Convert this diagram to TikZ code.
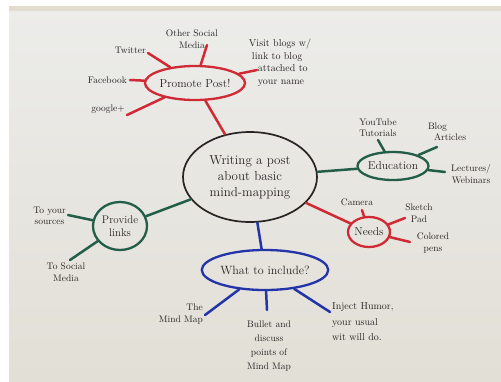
\documentclass[tikz,border=0pt]{standalone}
\usetikzlibrary{shapes.geometric}
\definecolor{mred}{RGB}{208,42,52}
\definecolor{mgreen}{RGB}{35,95,72}
\definecolor{mblue}{RGB}{35,52,168}
\definecolor{mink}{RGB}{40,36,36}
\definecolor{paperT}{RGB}{236,236,234}
\definecolor{paperB}{RGB}{226,223,214}
\definecolor{band}{RGB}{226,220,204}
\tikzset{
  bub/.style={ellipse, draw, line width=2.3pt, inner sep=0pt, text=mink,
    font=\fontsize{11.5}{13}\selectfont, align=center},
  lbl/.style={text=mink, font=\fontsize{9.5}{11.5}\selectfont, align=center, inner sep=0pt},
  br/.style={line width=2.5pt, line cap=round},
}
\begin{document}
\begin{tikzpicture}[x=1pt,y=-1pt]
\useasboundingbox (0,0) rectangle (501,381);
\fill[white] (0,0) rectangle (501,381);
\shade[top color=paperT, bottom color=paperB] (9,6) rectangle (501,381);
\fill[band] (9,6) rectangle (501,11);

% central
\node[bub, draw=mink, line width=1.7pt, minimum width=134pt, minimum height=90pt,
  font=\fontsize{13}{16}\selectfont] (main) at (250,177) {Writing a post\\about basic\\mind-mapping};

% main branches
\node[bub, draw=mred, minimum width=86pt, minimum height=34pt] (pp) at (195,83) {Promote Post!};
\node[bub, draw=mgreen, minimum width=68pt, minimum height=28pt] (edu) at (393,166) {Education};
\node[bub, draw=mred, minimum width=42pt, minimum height=30pt] (needs) at (369,232) {Needs};
\node[bub, draw=mgreen, minimum width=54pt, minimum height=48pt, font=\fontsize{11}{13}\selectfont] (links) at (120,226) {Provide\\links};
\node[bub, draw=mblue, minimum width=114pt, minimum height=40pt, font=\fontsize{12}{14}\selectfont] (incl) at (265,270) {What to include?};

\draw[br, mred] (main) -- (pp);
\draw[br, mgreen] (main) -- (edu);
\draw[br, mred] (main) -- (needs);
\draw[br, mgreen] (main) -- (links);
\draw[br, mblue] (main) -- (incl);

% Promote Post leaves
\coordinate (cTw) at (148,53);
\coordinate (cOt) at (207,45);
\coordinate (cVi) at (257,70);
\coordinate (cFb) at (130,80);
\coordinate (cGo) at (127,115);
\node[lbl, anchor=east] (tw) at (146,50) {Twitter};
\node[lbl] (ot) at (192,39) {Other Social\\Media};
\node[lbl, align=left, font=\fontsize{10}{12.5}\selectfont] (vi) at (280,63) {Visit blogs w/\\\hspace*{3pt}link to blog\\\hspace*{9pt}attached to\\\hspace*{9pt}your name};
\node[lbl, anchor=east] (fb) at (127,80) {Facebook};
\node[lbl, anchor=east] (go) at (125,109) {google+};
\foreach \c in {cTw,cOt,cVi,cFb,cGo} \draw[br, mred] (pp) -- (\c);

% Education leaves
\coordinate (cYt) at (378,140);
\coordinate (cBl) at (437,147);
\coordinate (cLe) at (445,172);
\node[lbl] (yt) at (378,128) {YouTube\\Tutorials};
\node[lbl, align=left] (bl) at (447,132) {Blog\\\hspace*{6pt}Articles};
\node[lbl, anchor=west] (le) at (451,174) {Lectures/\\Webinars};
\foreach \c in {cYt,cBl,cLe} \draw[br, mgreen] (edu) -- (\c);

% Needs leaves
\coordinate (cCa) at (362,210);
\coordinate (cSk) at (405,218);
\coordinate (cCo) at (410,242);
\node[lbl] (ca) at (357,202) {Camera};
\node[lbl] (sk) at (419,213) {Sketch\\Pad};
\node[lbl] (co) at (433,243) {Colored\\pens};
\foreach \c in {cCa,cSk,cCo} \draw[br, mred] (needs) -- (\c);

% Provide links leaves
\coordinate (cSo) at (68,215);
\coordinate (cSm) at (70,260);
\node[lbl, anchor=east] (so) at (66,216) {To your\\sources};
\node[lbl] (sm) at (66,272) {To Social\\Media};
\foreach \c in {cSo,cSm} \draw[br, mgreen] (links) -- (\c);

% What to include leaves
\coordinate (cMm) at (205,315);
\coordinate (cBu) at (267,310);
\coordinate (cIn) at (330,312);
\node[lbl, align=right, anchor=north east] (mm) at (203,304) {The\\Mind Map};
\node[lbl, font=\fontsize{9.5}{14}\selectfont] (bu) at (269,346) {Bullet and\\discuss\\points of\\Mind Map};
\node[lbl, align=left, anchor=west, font=\fontsize{10}{15.5}\selectfont] (in) at (332,322) {Inject Humor,\\your usual\\wit will do.};
\foreach \c in {cMm,cBu,cIn} \draw[br, mblue] (incl) -- (\c);
\end{tikzpicture}
\end{document}
